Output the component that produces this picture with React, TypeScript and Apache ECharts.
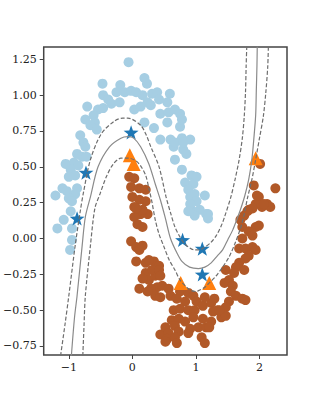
import React, { useEffect, useRef } from "react";
import * as echarts from "echarts";

const upperMoon: number[][] = [
  [-0.06, 1.23], [-0.47, 1.08], [-0.19, 1.07], [-0.25, 1.02], [-0.12, 1.02], [-0.46, 1.0],
  [-0.38, 0.97], [-0.33, 0.94], [-0.2, 0.95], [-0.71, 0.92], [-0.54, 0.9], [-0.46, 0.91],
  [-0.61, 0.86], [-0.74, 0.83], [-0.59, 0.81], [-0.66, 0.79], [-0.56, 0.76], [-0.82, 0.72],
  [-0.77, 0.67], [-0.74, 0.64], [-0.87, 0.59], [-0.79, 0.57], [-0.72, 0.57], [-1.05, 0.52],
  [-0.92, 0.53], [-0.85, 0.51], [-0.97, 0.48], [-0.9, 0.44], [-1.0, 0.43], [-1.1, 0.35],
  [-1.21, 0.3], [-1.03, 0.33], [-0.9, 0.31], [-0.87, 0.35], [-1.0, 0.28], [-0.95, 0.26],
  [-0.97, 0.19], [-1.08, 0.13], [-1.18, 0.07], [-0.95, 0.07], [-0.95, -0.01], [-0.98, -0.08],
  [0.19, 1.12], [0.23, 1.08], [-0.02, 1.03], [0.06, 1.02], [0.16, 1.0], [0.31, 1.01],
  [0.39, 1.02], [0.59, 1.01], [0.24, 0.95], [0.29, 0.93], [0.42, 0.97], [0.55, 0.95],
  [0.03, 0.9], [0.13, 0.92], [0.44, 0.87], [0.57, 0.88], [0.67, 0.9], [0.75, 0.87],
  [0.19, 0.81], [0.34, 0.77], [0.55, 0.81], [0.75, 0.78], [0.78, 0.83], [0.44, 0.69],
  [0.6, 0.69], [0.78, 0.7], [0.91, 0.69], [0.65, 0.64], [0.8, 0.62], [0.85, 0.59],
  [0.67, 0.55], [0.78, 0.48], [0.93, 0.44], [1.01, 0.43], [0.83, 0.39], [0.96, 0.38],
  [0.88, 0.34], [0.98, 0.31], [1.14, 0.3], [0.91, 0.29], [1.16, 0.17], [0.93, 0.2],
  [1.19, 0.17], [1.06, 0.2], [0.98, 0.16], [1.01, 0.26], [0.91, 0.24], [0.88, 0.19],
  [0.67, 0.67], [0.8, 0.67], [1.19, 0.14]
];

const lowerMoon: number[][] = [
  [-0.05, 0.43], [0.03, 0.42], [-0.02, 0.36], [0.11, 0.35], [0.21, 0.34], [0.0, 0.29],
  [0.11, 0.27], [0.21, 0.26], [0.03, 0.22], [0.13, 0.17], [0.24, 0.17], [0.03, 0.15],
  [0.08, 0.1], [0.16, 0.08], [0.16, 0.2], [0.06, 0.21], [-0.02, -0.02], [0.06, -0.06],
  [0.11, -0.08], [0.16, -0.05], [0.06, -0.16], [0.21, -0.17], [0.34, -0.16], [0.42, -0.19],
  [0.26, -0.15], [0.21, -0.24], [0.26, -0.29], [0.36, -0.26], [0.31, -0.22], [0.42, -0.22],
  [0.39, -0.34], [0.29, -0.35], [0.11, -0.35], [0.36, -0.4], [0.44, -0.41], [0.44, -0.67],
  [0.44, -0.26], [0.16, -0.28], [0.24, -0.37], [0.47, -0.33], [0.57, -0.35], [0.6, -0.4],
  [0.75, -0.37], [0.88, -0.38], [0.96, -0.4], [0.7, -0.42], [0.83, -0.44], [1.01, -0.44],
  [1.11, -0.47], [0.65, -0.5], [0.75, -0.49], [0.88, -0.5], [0.98, -0.5], [0.96, -0.55],
  [1.11, -0.56], [0.62, -0.57], [0.73, -0.56], [0.83, -0.58], [0.52, -0.62], [0.67, -0.61],
  [0.91, -0.63], [1.04, -0.62], [1.16, -0.62], [0.57, -0.66], [0.73, -0.65], [0.88, -0.66],
  [0.55, -0.7], [0.67, -0.69], [1.09, -0.69], [1.14, -0.73], [0.52, -0.72], [0.7, -0.73],
  [1.99, 0.29], [2.12, 0.24], [2.17, 0.22], [2.04, 0.22], [1.94, 0.24], [1.83, 0.2],
  [1.76, 0.16], [1.7, 0.13], [1.73, 0.08], [1.94, 0.08], [1.99, 0.09], [1.83, 0.05],
  [1.89, 0.02], [1.73, 0.0], [1.68, -0.07], [1.78, -0.07], [1.89, -0.06], [1.94, -0.08],
  [1.83, -0.12], [1.78, -0.14], [1.68, -0.17], [1.63, -0.2], [1.76, -0.22], [1.6, -0.24],
  [1.47, -0.22], [1.52, -0.29], [1.45, -0.31], [1.58, -0.33], [1.55, -0.37], [1.63, -0.4],
  [1.73, -0.42], [1.78, -0.43], [1.52, -0.44], [1.47, -0.48], [1.29, -0.42], [1.24, -0.45],
  [1.34, -0.5], [1.27, -0.51], [1.4, -0.55], [1.47, -0.54], [1.24, -0.58], [1.21, -0.62],
  [2.01, 0.52], [1.91, 0.37], [2.25, 0.35], [1.96, 0.3], [2.07, 0.24], [1.89, 0.21],
  [1.81, 0.19], [1.14, -0.41], [1.37, -0.5]
];

const labeledUpper: number[][] = [
  [-0.73, 0.46], [-0.87, 0.14], [-0.02, 0.74], [0.79, -0.01], [1.1, -0.07], [1.1, -0.25]
];

const labeledLower: number[][] = [
  [-0.04, 0.58], [0.02, 0.52], [0.76, -0.31], [1.21, -0.31], [1.94, 0.56]
];

const boundary: number[][] = [
  [-0.96, -0.82], [-0.91, -0.55], [-0.87, -0.4], [-0.79, -0.05], [-0.74, 0.15], [-0.66, 0.29],
  [-0.54, 0.5], [-0.36, 0.64], [-0.18, 0.7], [-0.07, 0.71], [0.02, 0.7], [0.13, 0.64],
  [0.26, 0.52], [0.36, 0.38], [0.44, 0.27], [0.52, 0.14], [0.6, 0.0], [0.7, -0.1],
  [0.78, -0.16], [0.9, -0.2], [1.04, -0.21], [1.14, -0.2], [1.24, -0.17], [1.34, -0.12],
  [1.42, -0.08], [1.5, -0.01], [1.58, 0.06], [1.65, 0.14], [1.7, 0.2], [1.77, 0.3],
  [1.83, 0.41], [1.88, 0.55], [1.91, 0.69], [1.94, 0.86], [1.95, 1.03], [1.96, 1.2], [1.965, 1.34]
];

const marginUpper: number[][] = [
  [-1.13, -0.82], [-1.06, -0.6], [-1.0, -0.4], [-0.9, -0.05], [-0.82, 0.19], [-0.77, 0.32],
  [-0.66, 0.55], [-0.49, 0.73], [-0.28, 0.82], [-0.15, 0.84], [-0.07, 0.84], [0.13, 0.79],
  [0.22, 0.72], [0.29, 0.64], [0.42, 0.5], [0.53, 0.29], [0.6, 0.18], [0.67, 0.08],
  [0.75, 0.01], [0.83, -0.04], [0.98, -0.08], [1.05, -0.08], [1.14, -0.06], [1.23, -0.03],
  [1.32, 0.02], [1.4, 0.09], [1.45, 0.15], [1.55, 0.29], [1.62, 0.42], [1.68, 0.55],
  [1.73, 0.7], [1.76, 0.85], [1.78, 1.02], [1.79, 1.2], [1.8, 1.34]
];

const marginLower: number[][] = [
  [-0.78, -0.82], [-0.76, -0.6], [-0.74, -0.4], [-0.66, -0.05], [-0.59, 0.21], [-0.51, 0.31],
  [-0.41, 0.43], [-0.3, 0.52], [-0.18, 0.56], [-0.06, 0.56], [0.06, 0.54], [0.14, 0.5],
  [0.21, 0.44], [0.26, 0.35], [0.31, 0.25], [0.36, 0.13], [0.42, 0.03], [0.49, -0.05],
  [0.58, -0.15], [0.67, -0.22], [0.75, -0.29], [0.83, -0.33], [0.91, -0.36], [1.0, -0.37],
  [1.06, -0.36], [1.14, -0.34], [1.21, -0.31], [1.32, -0.26], [1.42, -0.2], [1.52, -0.13],
  [1.61, -0.04], [1.7, 0.07], [1.76, 0.17], [1.81, 0.28], [1.88, 0.41], [1.94, 0.55],
  [2.0, 0.7], [2.06, 0.85], [2.1, 1.02], [2.13, 1.2], [2.14, 1.34]
];

const xTicks = [-1, 0, 1, 2];
const yTicks = [-0.75, -0.5, -0.25, 0, 0.25, 0.5, 0.75, 1.0, 1.25];

const STAR =
  "path://M0,-10 L2.35,-3.24 L9.51,-3.09 L3.8,1.24 L5.88,8.09 L0,4 L-5.88,8.09 L-3.8,1.24 L-9.51,-3.09 L-2.35,-3.24 Z";

const FONT = "DejaVu Serif";

export default function App() {
  const ref = useRef<HTMLDivElement>(null);
  useEffect(() => {
    if (!ref.current) return;
    const chart = echarts.init(ref.current, undefined, { renderer: "svg" });
    const fmt = (v: number, d: number) => v.toFixed(d).replace("-", "\u2212");
    const lineSeries = (data: number[][], dashed: boolean) => ({
      type: "line",
      data,
      showSymbol: false,
      smooth: 0.3,
      clip: true,
      z: 5,
      lineStyle: {
        color: dashed ? "#6e6e6e" : "#8a8a8a",
        width: 1.2,
        type: dashed ? [4, 2] : "solid",
      },
      silent: true,
    });
    chart.setOption({
      animation: false,
      grid: {
        left: 40,
        right: 33,
        top: 47,
        bottom: 45,
        show: true,
        borderColor: "#444",
        borderWidth: 1.5,
        backgroundColor: "#fff",
      },
      xAxis: {
        type: "value",
        min: -1.395,
        max: 2.433,
        axisLine: { show: false, onZero: false },
        splitLine: { show: false },
        axisTick: {
          show: true,
          length: 4,
          customValues: xTicks,
          lineStyle: { color: "#444", width: 1 },
        },
        axisLabel: {
          customValues: xTicks,
          margin: 7,
          fontFamily: FONT,
          fontSize: 11,
          color: "#222",
          formatter: (v: number) => fmt(v, 0),
        },
      },
      yAxis: {
        type: "value",
        min: -0.813,
        max: 1.336,
        axisLine: { show: false, onZero: false },
        splitLine: { show: false },
        axisTick: {
          show: true,
          length: 4,
          customValues: yTicks,
          lineStyle: { color: "#444", width: 1 },
        },
        axisLabel: {
          customValues: yTicks,
          margin: 7,
          fontFamily: FONT,
          fontSize: 11,
          color: "#222",
          formatter: (v: number) => fmt(v, 2),
        },
      },
      series: [
        {
          type: "scatter",
          data: upperMoon,
          symbolSize: 10,
          itemStyle: { color: "#a6cee3", opacity: 1 },
          z: 2,
        },
        {
          type: "scatter",
          data: lowerMoon,
          symbolSize: 10,
          itemStyle: { color: "#b15928", opacity: 1 },
          z: 2,
        },
        {
          type: "scatter",
          data: labeledUpper,
          symbol: STAR,
          symbolSize: 15,
          symbolKeepAspect: true,
          itemStyle: { color: "#1f77b4", opacity: 1 },
          z: 4,
        },
        {
          type: "scatter",
          data: labeledLower,
          symbol: "triangle",
          symbolSize: 14,
          itemStyle: { color: "#ff7f0e", opacity: 1 },
          z: 4,
        },
        lineSeries(boundary, false),
        lineSeries(marginUpper, true),
        lineSeries(marginLower, true),
      ],
    });
    return () => chart.dispose();
  }, []);
  return (
    <div
      ref={ref}
      style={{ position: "absolute", left: 0, top: 0, width: 320, height: 400 }}
    />
  );
}
